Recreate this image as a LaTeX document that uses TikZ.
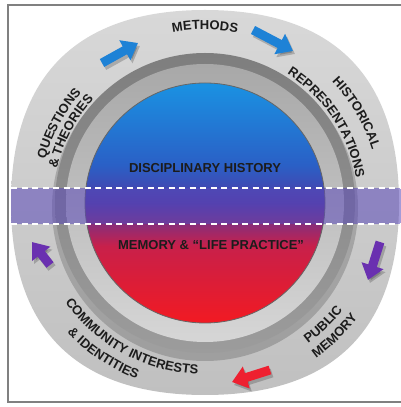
\documentclass[tikz,border=0pt]{standalone}
\usepackage{fontspec}
\setmainfont{Liberation Sans}
\usetikzlibrary{arrows.meta,decorations.text}

\definecolor{ringtop}{HTML}{D8D8D8}
\definecolor{ringbot}{HTML}{C0C0C0}
\definecolor{darktop}{HTML}{7E7E7E}
\definecolor{darkbot}{HTML}{9C9C9C}
\definecolor{beveltop}{HTML}{A8A8A8}
\definecolor{bevelbot}{HTML}{D6D6D6}
\definecolor{diskblue}{HTML}{1A92E2}
\definecolor{diskblueb}{HTML}{2A60C6}
\definecolor{diskpurple}{HTML}{4E3AA6}
\definecolor{diskredb}{HTML}{C8204A}
\definecolor{diskred}{HTML}{F21A22}
\definecolor{bandpurple}{HTML}{5A48B8}
\definecolor{arrowblue}{HTML}{1E82D6}
\definecolor{arrowpurple}{HTML}{6A30B0}
\definecolor{arrowred}{HTML}{EE2030}
\definecolor{labelink}{HTML}{1C1C1C}

\pgfdeclareverticalshading{diskshade}{100bp}{color(0bp)=(diskred); color(25bp)=(diskred);
  color(41bp)=(diskredb); color(50bp)=(diskpurple); color(58bp)=(diskblueb);
  color(75bp)=(diskblue); color(100bp)=(diskblue)}

\newcommand{\ringfont}{\bfseries\fontsize{13}{13}\selectfont\color{labelink}}
\newcommand{\diskfont}{\bfseries\fontsize{13}{13}\selectfont}

\begin{document}
\begin{tikzpicture}[x=1pt,y=1pt,
  ringlabel/.style={decorate,decoration={text along path,text={|\ringfont|#1},text align=center}},
  bigarrow/.style={line width=9pt,-{Triangle[length=15pt,width=22pt]}},
  arrowshade/.style={bigarrow,black,opacity=.2,transform canvas={shift={(2pt,-3pt)}}},
  bandline/.style={white,line width=2.5pt,dash pattern=on 6pt off 4.5pt}]
\clip (0,0) rectangle (401,407);
\coordinate (c) at (205,204);

% outer ring, a little squarish
\shade[top color=ringtop,bottom color=ringbot]
  (399,204) .. controls (399,331) and (333,397) .. (205,397)
  .. controls (77,397) and (11,331) .. (11,204)
  .. controls (11,77) and (77,12) .. (205,12)
  .. controls (333,12) and (399,77) .. cycle;

% inner rings and disk
\fill[black,opacity=.18] ([yshift=-5pt]c) circle (153);
\shade[top color=darktop,bottom color=darkbot] (c) circle (150);
\shade[top color=beveltop,bottom color=bevelbot] (c) circle (139);
\shade[shading=diskshade] (c) circle (120);
\draw[gray!80!black,line width=.8pt] (c) circle (120);

% band
\fill[bandpurple,opacity=.55] (11,183) rectangle (401,219);
\draw[bandline] (11,219) -- (401,219);
\draw[bandline] (11,183) -- (401,183);

% arrows
\coordinate (qmtail) at (102,344);  \coordinate (qmtip) at (138,364);
\coordinate (mhtail) at (253,377);  \coordinate (mhtip) at (293,356);
\coordinate (hptail) at (380,165);  \coordinate (hptip) at (368,127);
\coordinate (pctail) at (270,37);   \coordinate (pctip) at (232,25);
\coordinate (cqtail) at (50,142);   \coordinate (cqtip) at (32,165);
\foreach \a in {qm,mh,hp,pc,cq}
  \draw[arrowshade] (\a tail) -- (\a tip);
\draw[bigarrow,arrowblue] (qmtail) -- (qmtip);
\draw[bigarrow,arrowblue] (mhtail) -- (mhtip);
\draw[bigarrow,arrowpurple] (hptail) -- (hptip);
\draw[bigarrow,arrowred] (pctail) -- (pctip);
\draw[bigarrow,arrowpurple] (cqtail) -- (cqtip);

% ring labels
\path[ringlabel={METHODS}] (c) ++(125:173.5) arc[start angle=125,end angle=55,radius=173.5];
\path[ringlabel={HISTORICAL}] (c) ++(70.7:175.5) arc[start angle=70.7,end angle=-9.3,radius=175.5];
\path[ringlabel={REPRESENTATIONS}] (c) ++(78.5:153) arc[start angle=78.5,end angle=-11.5,radius=153];
\path[ringlabel={QUESTIONS}] (c) ++(186.5:165.5) arc[start angle=186.5,end angle=116.5,radius=165.5];
\path[ringlabel={{\&} THEORIES}] (c) ++(192:152) arc[start angle=192,end angle=112,radius=152];
\path[ringlabel={PUBLIC}] (c) ++(-75.8:174.5) arc[start angle=-75.8,end angle=-15.8,radius=174.5];
\path[ringlabel={MEMORY}] (c) ++(-75.7:191) arc[start angle=-75.7,end angle=-15.7,radius=191];
\path[ringlabel={COMMUNITY INTERESTS}] (c) ++(191.5:171.5) arc[start angle=191.5,end angle=291.5,radius=171.5];
\path[ringlabel={{\&} IDENTITIES}] (c) ++(196:189) arc[start angle=196,end angle=276,radius=189];

% disk labels
\node[text=labelink,font=\diskfont] (dischist) at (205,239) {DISCIPLINARY HISTORY};
\node[text=labelink,font=\diskfont] (memlife) at (211,162) {MEMORY \& “LIFE PRACTICE”};

% frame
\draw[gray,line width=1.5pt] (8,402) rectangle (405,5);
\end{tikzpicture}
\end{document}
